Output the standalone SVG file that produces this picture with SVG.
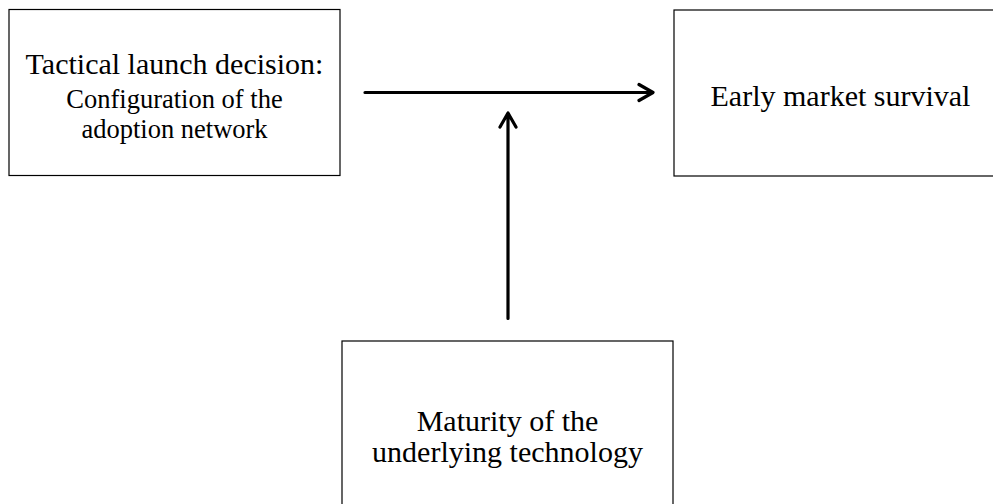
<svg xmlns="http://www.w3.org/2000/svg" width="993" height="504" viewBox="0 0 993 504">
<style>
.box{fill:#fff;stroke:#000;stroke-width:1.2}
.t{font-family:"Liberation Serif","Times New Roman",serif;fill:#000;text-anchor:middle}
.big{font-size:30px}
.sm{font-size:26.5px}
.conn{fill:none;stroke:#000;stroke-width:3.2;stroke-linecap:round;stroke-linejoin:round}
</style>
<rect width="993" height="504" fill="#fff"/>
<g id="node-tactical">
<rect class="box" x="9" y="9.5" width="331" height="166"/>
<text class="t big" x="174.5" y="74">Tactical launch decision:</text>
<text class="t sm" x="174.5" y="108">Configuration of the</text>
<text class="t sm" x="174.5" y="138">adoption network</text>
</g>
<g id="node-survival">
<rect class="box" x="674" y="10" width="333" height="166"/>
<text class="t big" x="840.5" y="106">Early market survival</text>
</g>
<g id="node-maturity">
<rect class="box" x="342" y="341" width="331" height="170"/>
<text class="t big" x="507.5" y="431">Maturity of the</text>
<text class="t big" x="507.5" y="462">underlying technology</text>
</g>
<g id="connectors">
<path class="conn" d="M365 92.5 H652 M639 84.5 L653 92.5 L639 100.5"/>
<path class="conn" d="M508 318.5 V114 M500 127 L508 113 L516 127"/>
</g>
</svg>
